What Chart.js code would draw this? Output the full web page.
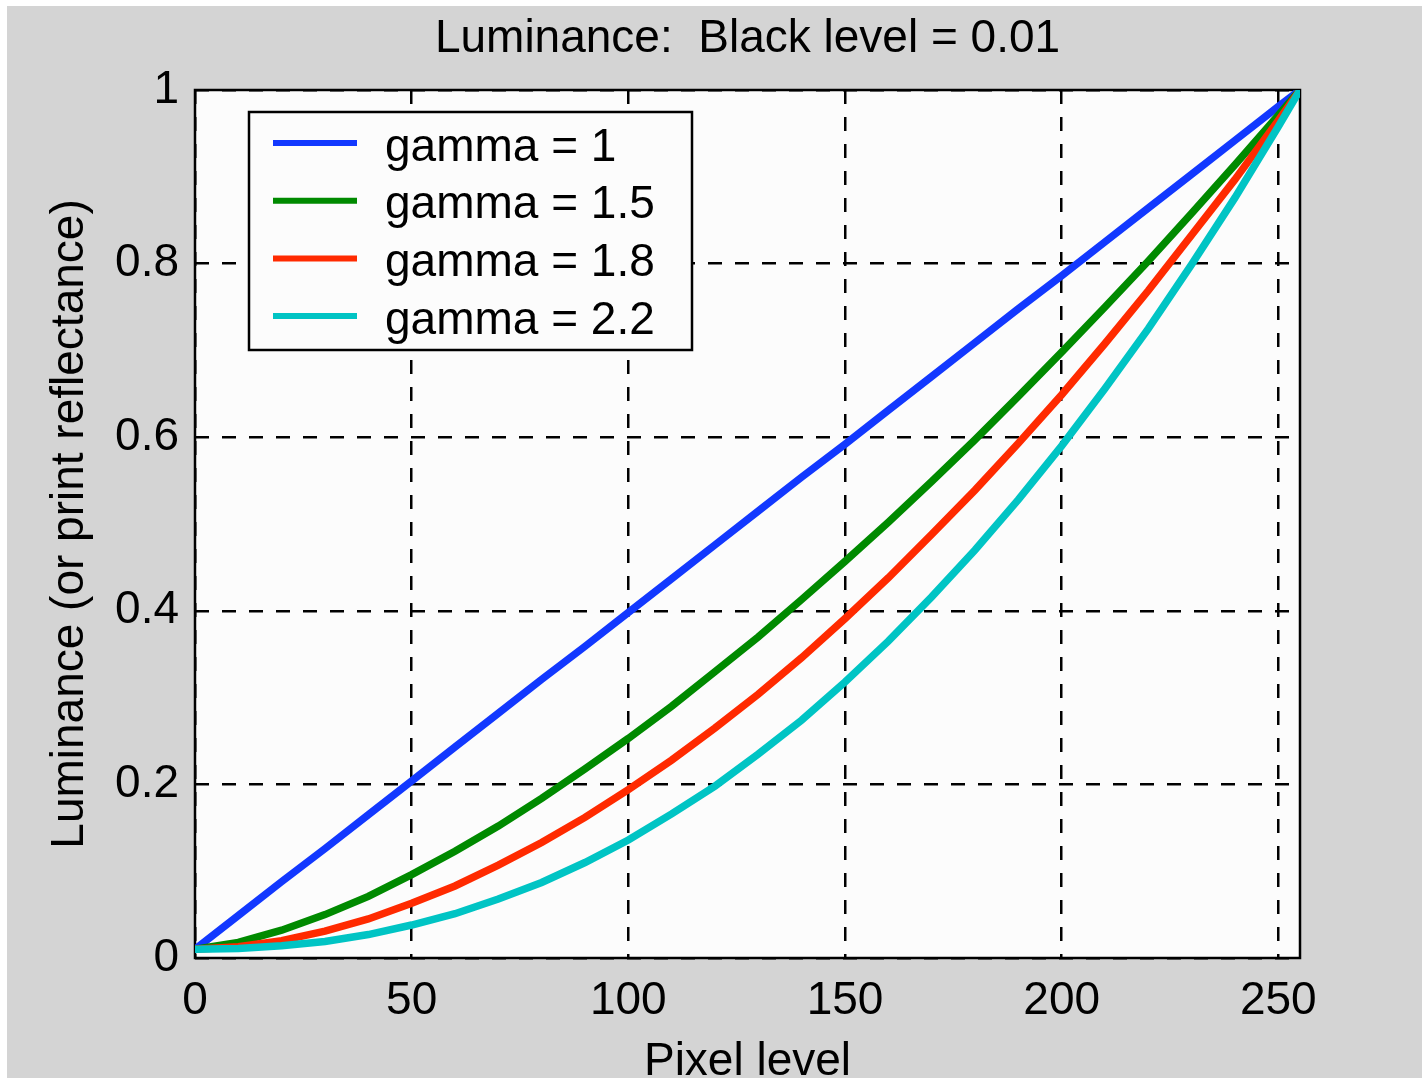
<!DOCTYPE html>
<html lang="en">
<head>
  <meta charset="UTF-8" />
  <title>Luminance: Black level = 0.01</title>
  <script src="https://cdn.jsdelivr.net/npm/chart.js"></script>
  <style>
    html, body { margin: 0; padding: 0; background: #fff; overflow: hidden; }
    .figure { position: absolute; left: 7px; top: 6px; width: 1415px; height: 1100px; background: #d4d4d4; }
    canvas { display: block; }
  </style>
</head>
<body>
  <div class="figure">
    <canvas id="gammaChart" width="1415" height="1100"></canvas>
  </div>

  <script>
    // values
    const pixelLevels = [0, 10, 20, 30, 40, 50, 60, 70, 80, 90, 100, 110, 120, 130, 140, 150, 160, 170, 180, 190, 200, 210, 220, 230, 240, 250, 255];
    const gamma10 = [0.01, 0.049, 0.088, 0.126, 0.165, 0.204, 0.243, 0.282, 0.321, 0.359, 0.398, 0.437, 0.476, 0.515, 0.554, 0.592, 0.631, 0.670, 0.709, 0.748, 0.786, 0.825, 0.864, 0.903, 0.942, 0.981, 1.0];
    const gamma15 = [0.01, 0.018, 0.032, 0.050, 0.071, 0.096, 0.123, 0.152, 0.184, 0.218, 0.253, 0.290, 0.330, 0.370, 0.413, 0.457, 0.502, 0.549, 0.597, 0.647, 0.698, 0.750, 0.803, 0.858, 0.914, 0.971, 1.0];
    const gamma18 = [0.01, 0.013, 0.020, 0.031, 0.045, 0.063, 0.083, 0.107, 0.133, 0.162, 0.194, 0.228, 0.265, 0.304, 0.346, 0.391, 0.438, 0.488, 0.539, 0.593, 0.649, 0.708, 0.769, 0.833, 0.897, 0.965, 1.0];
    const gamma22 = [0.01, 0.011, 0.014, 0.019, 0.027, 0.038, 0.051, 0.068, 0.087, 0.110, 0.136, 0.166, 0.198, 0.235, 0.274, 0.318, 0.365, 0.416, 0.470, 0.528, 0.590, 0.656, 0.725, 0.799, 0.876, 0.958, 1.0];
    const seriesLabels = ['gamma = 1', 'gamma = 1.5', 'gamma = 1.8', 'gamma = 2.2'];
    const xTickValues = [0, 50, 100, 150, 200, 250];
    const yTickValues = [0, 0.2, 0.4, 0.6, 0.8, 1];

    const FONT = '"Liberation Sans", Arial, sans-serif';
    const toPoints = ys => pixelLevels.map((x, i) => ({ x: x, y: ys[i] }));

    // white plot area + black frame, like the MATLAB axes box
    const axesBox = {
      id: 'axesBox',
      beforeDraw(chart) {
        const { ctx, chartArea: a } = chart;
        ctx.save();
        ctx.fillStyle = '#fcfcfc';
        ctx.fillRect(a.left, a.top, a.right - a.left, a.bottom - a.top);
        ctx.restore();
      },
      beforeDatasetsDraw(chart) {
        const { ctx, chartArea: a } = chart;
        ctx.save();
        ctx.lineWidth = 2.5;
        ctx.strokeStyle = '#000';
        ctx.strokeRect(a.left, a.top, a.right - a.left, a.bottom - a.top);
        ctx.restore();
      }
    };

    // boxed legend in the upper left of the axes
    const legendBox = {
      id: 'legendBox',
      afterDraw(chart) {
        const { ctx, chartArea: a } = chart;
        const x = a.left + 54, y = a.top + 22, w = 443, h = 238;
        ctx.save();
        ctx.fillStyle = '#fcfcfc';
        ctx.fillRect(x, y, w, h);
        ctx.lineWidth = 2.5;
        ctx.strokeStyle = '#000';
        ctx.strokeRect(x, y, w, h);
        ctx.font = '46px ' + FONT;
        ctx.textBaseline = 'middle';
        chart.data.datasets.forEach((ds, i) => {
          const cy = y + 31 + i * 57.7;
          ctx.strokeStyle = ds.borderColor;
          ctx.lineWidth = 6;
          ctx.beginPath();
          ctx.moveTo(x + 24, cy);
          ctx.lineTo(x + 108, cy);
          ctx.stroke();
          ctx.fillStyle = '#000';
          ctx.fillText(ds.label, x + 136, cy + 5);
        });
        ctx.restore();
      }
    };

    const line = (label, ys, color, order) => ({
      label: label,
      data: toPoints(ys),
      borderColor: color,
      backgroundColor: color,
      borderWidth: 7.5,
      pointRadius: 0,
      tension: 0,
      fill: false,
      order: order
    });

    const ctx = document.getElementById('gammaChart').getContext('2d');
    const chart = new Chart(ctx, {
      type: 'line',
      data: {
        datasets: [
          line(seriesLabels[0], gamma10, '#1238ff', 4),
          line(seriesLabels[1], gamma15, '#008a00', 3),
          line(seriesLabels[2], gamma18, '#ff2a00', 2),
          line(seriesLabels[3], gamma22, '#00c4c4', 1)
        ]
      },
      options: {
        responsive: false,
        animation: false,
        layout: { padding: { left: 0, right: 122, top: 0, bottom: 0 } },
        scales: {
          x: {
            type: 'linear',
            min: 0,
            max: 255,
            afterBuildTicks: s => { s.ticks = xTickValues.map(v => ({ value: v })); },
            afterFit: s => { s.height = 148; },
            grid: { color: '#000', lineWidth: 2.5, drawTicks: false },
            border: { display: false, dash: [14, 13] },
            ticks: { color: '#000', padding: 16, maxRotation: 0, font: { family: FONT, size: 46 } },
            title: { display: true, text: 'Pixel level', color: '#000', padding: { top: 0, bottom: 16 }, font: { family: FONT, size: 46 } }
          },
          y: {
            type: 'linear',
            min: 0,
            max: 1,
            afterBuildTicks: s => { s.ticks = yTickValues.map(v => ({ value: v })); },
            afterFit: s => { s.width = 188; },
            grid: { color: '#000', lineWidth: 2.5, drawTicks: false },
            border: { display: false, dash: [14, 13] },
            ticks: { color: '#000', padding: 16, font: { family: FONT, size: 46 }, callback: v => String(+v.toFixed(1)) },
            title: { display: true, text: 'Luminance (or print reflectance)', color: '#000', padding: { top: 36, bottom: 0 }, font: { family: FONT, size: 46 } }
          }
        },
        plugins: {
          legend: { display: false },
          tooltip: { enabled: false },
          title: {
            display: true,
            fullSize: false,
            text: 'Luminance:  Black level = 0.01',
            color: '#000',
            padding: { top: 6, bottom: 22.8 },
            font: { family: FONT, size: 46, weight: 'normal' }
          }
        }
      },
      plugins: [axesBox, legendBox]
    });
  </script>
</body>
</html>
